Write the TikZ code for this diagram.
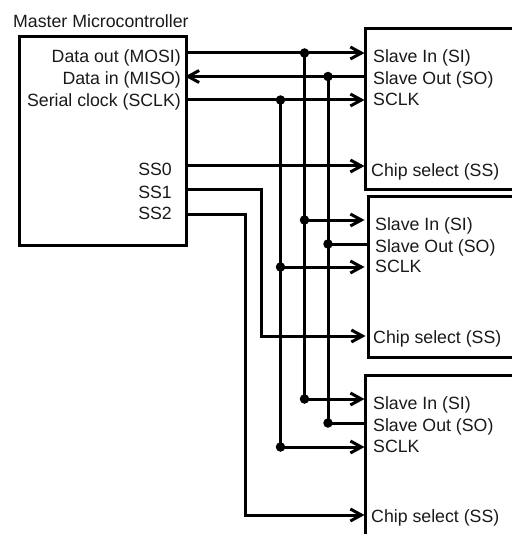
\documentclass[tikz,border=0pt]{standalone}
\usepackage{fontspec}
\setmainfont{Liberation Sans}
\usetikzlibrary{arrows.meta}
\tikzset{
  x=1bp,y=-1bp,
  wire/.style={line width=3bp,line join=miter},
  sig/.style={wire,-{Straight Barb[length=11bp,width=12bp,line width=3bp]}},
  sigback/.style={wire,{Straight Barb[length=11bp,width=12bp,line width=3bp]}-},
  boxline/.style={line width=3bp,line join=miter},
  dot/.style={circle,fill=black,draw=none,minimum size=9.5bp,inner sep=0pt},
  lab/.style={font=\fontsize{17.8}{20}\selectfont,inner sep=0pt,text=black!90},
  labl/.style={lab,anchor=base west},
  labr/.style={lab,anchor=base east},
}
\begin{document}
\begin{tikzpicture}
\useasboundingbox (0,0) rectangle (512,534);
% boxes
\node[boxline,draw,minimum width=167bp,minimum height=209bp,inner sep=0pt,anchor=north west] (master) at (18,35) {};
\draw[boxline] (512,29) -- (365.5,29) -- (365.5,190) -- (512,190);
\draw[boxline] (512,197) -- (368,197) -- (368,357) -- (512,357);
\draw[boxline] (512,375.5) -- (365.5,375.5) -- (365.5,534);
% labels
\node[labl] (title) at (13,27.5) {Master Microcontroller};
\node[labr] (m1) at (181,62.5) {Data out (MOSI)};
\node[labr] (m2) at (181,84.5) {Data in (MISO)};
\node[labr] (m3) at (181,106.5) {Serial clock (SCLK)};
\node[labr] (m4) at (172,175.5) {SS0};
\node[labr] (m5) at (172,198.5) {SS1};
\node[labr] (m6) at (172,219.5) {SS2};
\node[labl] (a1) at (373,62.5) {Slave In (SI)};
\node[labl] (a2) at (373,84.5) {Slave Out (SO)};
\node[labl] (a3) at (373,105.5) {SCLK};
\node[labl] (a4) at (371,176.5) {Chip select (SS)};
\node[labl] (b1) at (375,230.5) {Slave In (SI)};
\node[labl] (b2) at (375,252.5) {Slave Out (SO)};
\node[labl] (b3) at (375,272.5) {SCLK};
\node[labl] (b4) at (373,343.5) {Chip select (SS)};
\node[labl] (c1) at (373,409.5) {Slave In (SI)};
\node[labl] (c2) at (373,431.5) {Slave Out (SO)};
\node[labl] (c3) at (373,452.5) {SCLK};
\node[labl] (c4) at (371,522.5) {Chip select (SS)};
% pins
\coordinate (pm1) at (185,53);
\coordinate (pm2) at (185,76.5);
\coordinate (pm3) at (185,100);
\coordinate (pm4) at (185,166);
\coordinate (pm5) at (185,190);
\coordinate (pm6) at (185,214);
\coordinate (pa1) at (364.5,53);
\coordinate (pa2) at (365.5,76.5);
\coordinate (pa3) at (364.5,100);
\coordinate (pa4) at (364.5,166);
\coordinate (pb1) at (364.5,220);
\coordinate (pb2) at (368,244);
\coordinate (pb3) at (364.5,267);
\coordinate (pb4) at (365.5,336);
\coordinate (pc1) at (364.5,399);
\coordinate (pc2) at (365.5,423);
\coordinate (pc3) at (364.5,447);
\coordinate (pc4) at (364.5,515);
\coordinate (k1) at (261,190);
\coordinate (k2) at (261,336);
\coordinate (k3) at (245,214);
\coordinate (k4) at (245,515);
% junctions
\node[dot] (da1) at (304.5,53) {};
\node[dot] (db1) at (304.5,220) {};
\node[dot] (dc1) at (304.5,399) {};
\node[dot] (da2) at (328,76.5) {};
\node[dot] (db2) at (328,244) {};
\node[dot] (dc2) at (328,423) {};
\node[dot] (da3) at (280.5,100) {};
\node[dot] (db3) at (280.5,267) {};
\node[dot] (dc3) at (280.5,447) {};
% wires
\draw[sig] (pm1) -- (pa1);
\draw[sigback] (pm2) -- (pa2);
\draw[sig] (pm3) -- (pa3);
\draw[sig] (pm4) -- (pa4);
\draw[sig] (pm5) -- (k1) -- (k2) -- (pb4);
\draw[sig] (pm6) -- (k3) -- (k4) -- (pc4);
\draw[wire] (da1.center) -- (dc1.center);
\draw[wire] (da2.center) -- (dc2.center);
\draw[wire] (da3.center) -- (dc3.center);
\draw[sig] (db1.center) -- (pb1);
\draw[wire] (db2.center) -- (pb2);
\draw[sig] (db3.center) -- (pb3);
\draw[sig] (dc1.center) -- (pc1);
\draw[wire] (dc2.center) -- (pc2);
\draw[sig] (dc3.center) -- (pc3);
\end{tikzpicture}
\end{document}
